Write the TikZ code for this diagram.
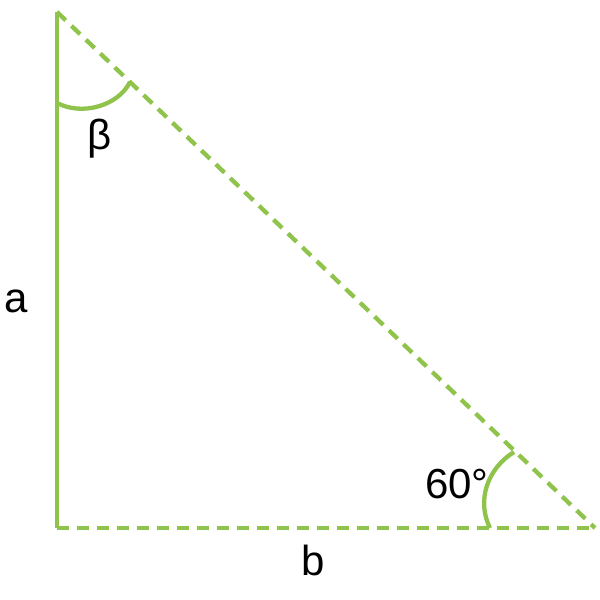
\documentclass[tikz,border=0pt]{standalone}
\usepackage{fontspec}
\setmainfont{Liberation Sans}
\definecolor{tgreen}{RGB}{144,195,76}
\begin{document}
\begin{tikzpicture}[x=1pt,y=-1pt,
  side/.style={draw=tgreen,line width=4.3pt},
  dside/.style={side,dash pattern=on 12pt off 8pt},
  lbl/.style={font=\fontsize{42}{46}\selectfont,text=black,inner sep=0pt}]
\useasboundingbox (0,0) rectangle (600,600);
\coordinate (T) at (57,12);
\coordinate (L) at (57,528);
\coordinate (R) at (595,528);
\coordinate (t1) at (57,103);
\coordinate (t2) at (130,82);
\coordinate (r1) at (490,528);
\coordinate (r2) at (514,452);
\draw[side] (T) -- (L);
\draw[dside] (T) -- (R);
\draw[dside] (L) -- (R);
\draw[side] (t1) .. controls (82,116) and (118,106) .. (t2);
\draw[side] (r1) .. controls (476,500) and (488,468) .. (r2);
\node[lbl] (a) at (16,301) {a};
\node[lbl] (b) at (313,560) {b};
\node[lbl] (beta) at (100,139) {β};
\node[lbl] (ang) at (457,484) {60°};
\end{tikzpicture}
\end{document}
